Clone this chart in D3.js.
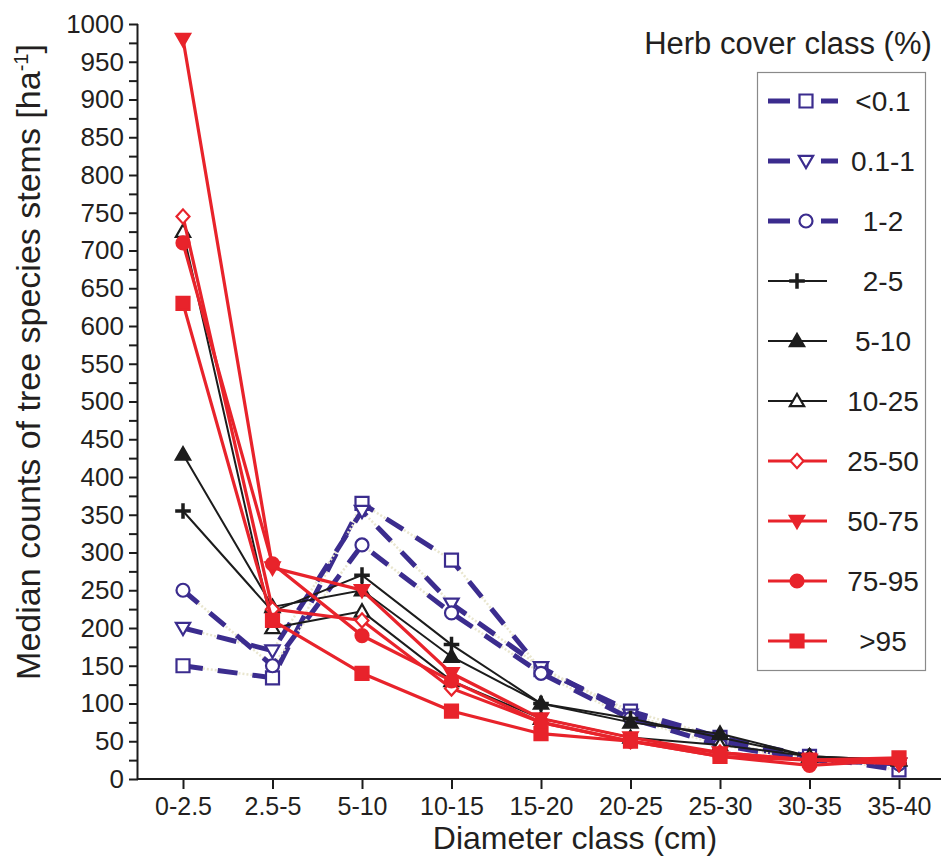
<!DOCTYPE html>
<html>
<head>
<meta charset="utf-8">
<script src="https://cdn.jsdelivr.net/npm/d3@7"></script>
<style>
  body { margin: 0; background: #fff; }
  text { font-family: "Liberation Sans", Arial, sans-serif; fill: #231f20; }
</style>
</head>
<body>
<svg id="chart"></svg>
<script>
const width = 941;
const height = 860;
const margin = { top: 24, right: 42, bottom: 81, left: 138 };

// diameter classes on the x axis
const diameterClasses = ["0-2.5", "2.5-5", "5-10", "10-15", "15-20", "20-25", "25-30", "30-35", "35-40"];
const herbClasses = ["<0.1", "0.1-1", "1-2", "2-5", "5-10", "10-25", "25-50", "50-75", "75-95", ">95"];

// median counts per herb cover class
const lt01 = [150, 134, 365, 290, 145, 90, 55, 30, 12];
const c01to1 = [200, 170, 355, 232, 148, 85, 50, 25, 20];
const c1to2 = [250, 150, 310, 220, 140, 80, 45, 25, 20];
const c2to5 = [355, 222, 270, 178, 100, 80, 55, 30, 20];
const c5to10 = [430, 228, 250, 162, 100, 75, 60, 30, 25];
const c10to25 = [725, 200, 222, 130, 80, 55, 45, 30, 25];
const c25to50 = [745, 225, 210, 120, 75, 50, 35, 25, 25];
const c50to75 = [980, 280, 250, 140, 80, 55, 35, 25, 20];
const c75to95 = [710, 285, 190, 130, 75, 50, 30, 18, 25];
const gt95 = [630, 210, 140, 90, 60, 50, 30, 25, 28];

const purple = "#3b2c8e";
const black = "#1c1c1c";
const red = "#e8232b";

const styles = [
  { values: lt01, color: purple, dash: true, sym: "square", fill: false },
  { values: c01to1, color: purple, dash: true, sym: "tridown", fill: false },
  { values: c1to2, color: purple, dash: true, sym: "circle", fill: false },
  { values: c2to5, color: black, dash: false, sym: "plus", fill: true },
  { values: c5to10, color: black, dash: false, sym: "triup", fill: true },
  { values: c10to25, color: black, dash: false, sym: "triup", fill: false },
  { values: c25to50, color: red, dash: false, sym: "diamond", fill: false },
  { values: c50to75, color: red, dash: false, sym: "tridown", fill: true },
  { values: c75to95, color: red, dash: false, sym: "circle", fill: true },
  { values: gt95, color: red, dash: false, sym: "square", fill: true }
];
const series = herbClasses.map((name, i) => ({ name, ...styles[i] }));

const svg = d3.select("#chart").attr("width", width).attr("height", height);

const x = d3.scalePoint().domain(diameterClasses).range([183, 899]);
const y = d3.scaleLinear().domain([0, 1000]).range([height - margin.bottom, margin.top]);

// axes
const yAxis = d3.axisLeft(y)
  .tickValues(d3.range(0, 1001, 25))
  .tickSize(9)
  .tickPadding(5)
  .tickFormat((d) => (d % 50 === 0 ? d : ""));
const gy = svg.append("g").attr("transform", `translate(${margin.left},0)`).call(yAxis);
gy.select(".domain").attr("d", `M-0.5,${y(1000)}V${y(0)}`);
gy.selectAll("text").style("font-size", "26px");
gy.selectAll("line, path").attr("stroke", black).attr("stroke-width", 2);

const xAxis = d3.axisBottom(x).tickSize(10).tickPadding(8);
const gx = svg.append("g").attr("transform", `translate(0,${y(0)})`).call(xAxis);
gx.select(".domain").attr("d", `M${margin.left - 1},0H${width}`);
gx.selectAll("text").style("font-size", "25px");
gx.selectAll("line, path").attr("stroke", black).attr("stroke-width", 2);

svg.append("text")
  .attr("x", 575).attr("y", 849)
  .attr("text-anchor", "middle")
  .style("font-size", "32px")
  .text("Diameter class (cm)");

const yTitle = svg.append("text")
  .attr("transform", `translate(40,362) rotate(-90)`)
  .attr("text-anchor", "middle")
  .style("font-size", "34px");
yTitle.append("tspan").text("Median counts of tree species stems [ha");
yTitle.append("tspan").attr("dy", -12).style("font-size", "20px").text("-1");
yTitle.append("tspan").attr("dy", 12).text("]");

// marker shapes
function markerPath(sym, s) {
  switch (sym) {
    case "square": return `M${-s},${-s}H${s}V${s}H${-s}Z`;
    case "circle": return `M${s},0A${s},${s} 0 1,1 ${-s},0A${s},${s} 0 1,1 ${s},0Z`;
    case "tridown": return `M${-s * 1.1},${-s * 0.8}H${s * 1.1}L0,${s * 1.1}Z`;
    case "triup": return `M${-s * 1.1},${s * 0.8}H${s * 1.1}L0,${-s * 1.1}Z`;
    case "diamond": return `M0,${-s * 1.1}L${s},0L0,${s * 1.1}L${-s},0Z`;
    case "plus": return `M${-s * 1.2},0H${s * 1.2}M0,${-s * 1.2}V${s * 1.2}`;
  }
}

function drawMarker(g, d, s) {
  const plus = d.sym === "plus";
  g.append("path")
    .attr("d", markerPath(d.sym, s))
    .attr("fill", d.fill && !plus ? d.color : "#fff")
    .attr("stroke", d.color)
    .attr("stroke-width", plus ? 3.5 : 2.2);
}

const line = d3.line()
  .x((d, i) => x(diameterClasses[i]))
  .y((d) => y(d));

const lines = svg.append("g");
series.forEach((d) => {
  const g = lines.append("g");
  if (d.dash) {
    g.append("path")
      .attr("d", line(d.values))
      .attr("fill", "none")
      .attr("stroke", "#e9e6cf")
      .attr("stroke-width", 2.5)
      .attr("stroke-dasharray", "2,2");
  }
  g.append("path")
    .attr("d", line(d.values))
    .attr("fill", "none")
    .attr("stroke", d.color)
    .attr("stroke-width", d.dash ? 5 : d.color === red ? 3.2 : 2)
    .attr("stroke-dasharray", d.dash ? "20,15" : null);
  d.values.forEach((v, i) => {
    const m = g.append("g").attr("transform", `translate(${x(diameterClasses[i])},${y(v)})`);
    drawMarker(m, d, 6.5);
  });
});

// legend
svg.append("text")
  .attr("x", 788).attr("y", 54)
  .attr("text-anchor", "middle")
  .style("font-size", "31px")
  .text("Herb cover class (%)");

svg.append("rect")
  .attr("x", 757.5).attr("y", 72.5)
  .attr("width", 168).attr("height", 598)
  .attr("fill", "#fff")
  .attr("stroke", "#8a8a8a")
  .attr("stroke-width", 1.2);

const legend = svg.append("g");
series.forEach((d, i) => {
  const ly = 101 + i * 60;
  const g = legend.append("g").attr("transform", `translate(0,${ly})`);
  if (d.dash) {
    g.append("path").attr("d", "M768,0H790M821,0H838")
      .attr("stroke", d.color).attr("stroke-width", 5);
  } else {
    g.append("path").attr("d", "M768,0H827")
      .attr("stroke", d.color).attr("stroke-width", d.color === red ? 3.2 : 2);
  }
  const m = g.append("g").attr("transform", `translate(${d.dash ? 806 : 797},0)`);
  drawMarker(m, d, 6.5);
  g.append("text")
    .attr("x", 883).attr("y", 10)
    .attr("text-anchor", "middle")
    .style("font-size", "28px")
    .text(d.name);
});
</script>
</body>
</html>
